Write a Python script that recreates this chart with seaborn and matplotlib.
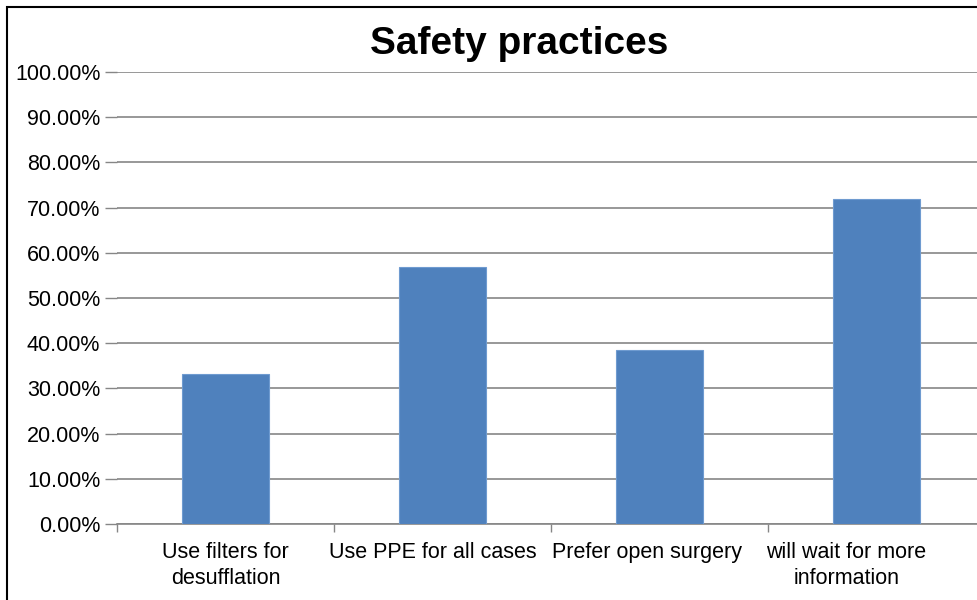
import numpy as np
import pandas as pd
import matplotlib
matplotlib.use("Agg")
import matplotlib.pyplot as plt
import seaborn as sns
from matplotlib.patches import Rectangle
from matplotlib.ticker import FuncFormatter, FixedLocator
from matplotlib.transforms import ScaledTranslation

# ---------------------------------------------------------------
# data
# ---------------------------------------------------------------
categories = [
    "Use filters for\ndesufflation",
    "Use PPE for all cases",
    "Prefer open surgery",
    "will wait for more\ninformation",
]
values = [33.2, 56.9, 38.5, 71.8]
y_ticks = [0, 10, 20, 30, 40, 50, 60, 70, 80, 90, 100]

df = pd.DataFrame({"practice": categories, "percent": values})

# ---------------------------------------------------------------
# style
# ---------------------------------------------------------------
sns.set_style("white")
plt.rcParams["font.family"] = ["Liberation Sans", "DejaVu Sans"]
plt.rcParams["text.color"] = "black"

BAR = "#4F81BD"
GRID = "#868686"

fig = plt.figure(figsize=(9.78, 6.0), dpi=100)
ax = fig.add_axes([117 / 978, 76 / 600, 868 / 978, 452 / 600])

sns.barplot(data=df, x="practice", y="percent", color=BAR, width=0.4,
            saturation=1, edgecolor="#6f9bd0", linewidth=0.8, ax=ax, zorder=3)

ax.set_xlim(-0.5, 3.5)
ax.set_ylim(0, 100)
ax.set_yticks(y_ticks)
ax.yaxis.set_major_formatter(FuncFormatter(lambda v, p: f"{v:.2f}%"))
ax.grid(axis="y", color=GRID, linewidth=1.2, zorder=0)
ax.tick_params(axis="y", length=9, color=GRID, width=1.0, labelsize=15.5,
               pad=3, left=True, labelcolor="black")

# category labels centered, boundary ticks as minor ticks
ax.tick_params(axis="x", length=0, labelsize=15.5, pad=13, labelcolor="black")
ax.xaxis.set_minor_locator(FixedLocator([-0.5, 0.5, 1.5, 2.5, 3.5]))
ax.tick_params(axis="x", which="minor", length=6, color=GRID, width=1.0,
               bottom=True)
# small horizontal nudges like the original's label layout (in pixels)
nudge = [0, -10, -13, -30]
for lab, dx in zip(ax.get_xticklabels(), nudge):
    lab.set_linespacing(1.3)
    lab.set_transform(lab.get_transform() + ScaledTranslation(dx / 100, 0, fig.dpi_scale_trans))

ax.set_xlabel("")
ax.set_ylabel("")
for s in ["top", "right", "left"]:
    ax.spines[s].set_visible(False)
ax.spines["bottom"].set_color(GRID)
ax.spines["bottom"].set_linewidth(1.2)

fig.text(519 / 978, 1 - 44 / 600, "Safety practices", ha="center", va="center",
         fontsize=28, fontweight="bold", color="black")

# outer chart border
fig.patches.append(Rectangle((7 / 978, -0.1), 1.2, 1 - 7 / 600 + 0.1,
                             transform=fig.transFigure, fill=False,
                             edgecolor="black", linewidth=1.5))

fig.savefig("out.png", dpi=100)
